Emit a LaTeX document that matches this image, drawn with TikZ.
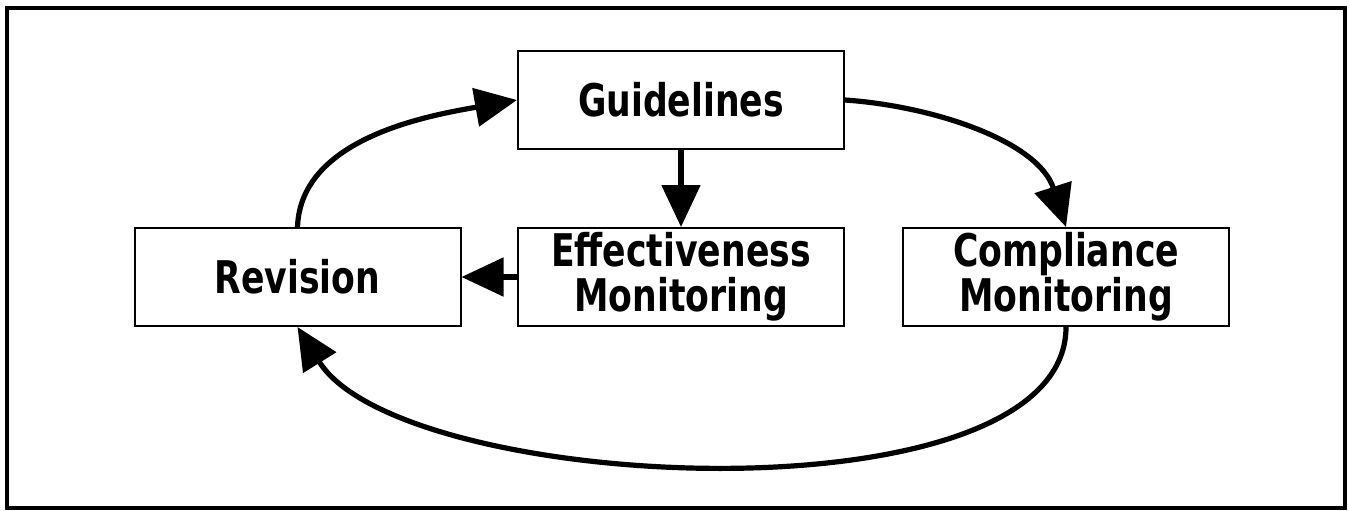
\documentclass[tikz,border=0pt]{standalone}
\usepackage{fontspec}
\newfontfamily\boxfont{DejaVu Sans}[FakeStretch=0.77]
\usetikzlibrary{arrows.meta}
\tikzset{>={Triangle[length=21pt,width=19pt]}}
\tikzset{stage/.style={draw,line width=1pt,minimum width=163pt,minimum height=49pt,inner sep=0pt,align=center,font=\boxfont\bfseries\fontsize{22.5}{22.5}\selectfont}}
\tikzset{flow/.style={->,line width=2.6pt}}

\begin{document}
\begin{tikzpicture}[x=0.5pt,y=0.5pt]
\useasboundingbox (0,0) rectangle (1349,510);
\draw[line width=2pt] (7,2) rectangle (1345,502);
\node[stage] (guide) at (681,410) {Guidelines};
\node[stage] (effect) at (681,233) {Effectiveness\\Monitoring};
\node[stage] (revis) at (297.5,233) {Revision};
\node[stage] (compl) at (1066,233) {Compliance\\Monitoring};
\draw[flow] (guide) -- (effect);
\draw[flow] (effect) -- (revis);
\draw[flow] (revis.north) to[out=88,in=190,looseness=0.9] (guide.west);
\draw[flow] (guide.east) to[out=-4,in=108,looseness=0.9] (compl.north);
\draw[flow] (compl.south) to[out=-90,in=-58,looseness=0.66] (revis.south);
\end{tikzpicture}
\end{document}
